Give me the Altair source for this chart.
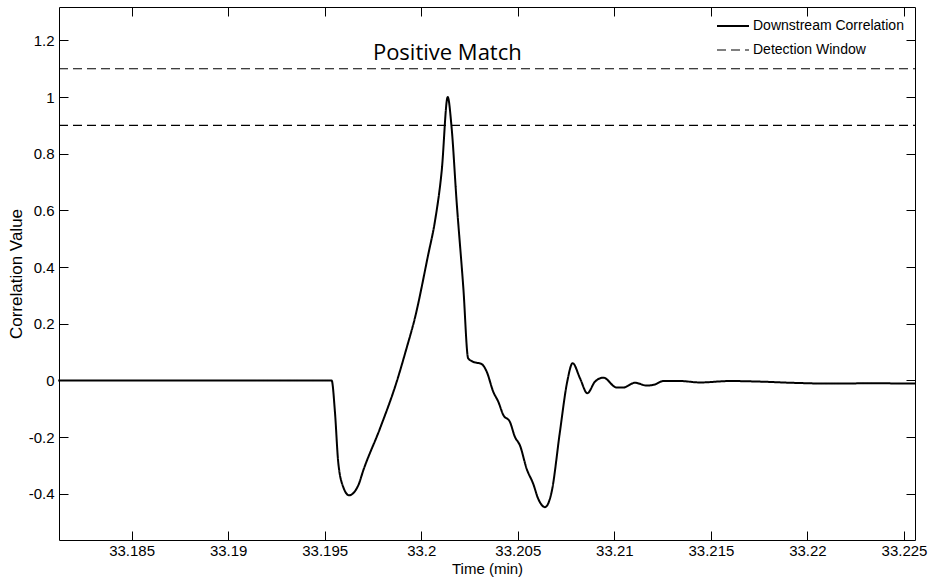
import altair as alt
import pandas as pd

# Downstream correlation trace (time in minutes, correlation value)
time_min = [33.1812, 33.19536, 33.19553, 33.1957, 33.19596, 33.19626, 33.19674, 33.197,
            33.19786, 33.19873, 33.19924, 33.19967, 33.20036, 33.20071, 33.20106, 33.20137,
            33.20157, 33.20183, 33.20218, 33.20243, 33.20269, 33.20313, 33.20339, 33.20373,
            33.20399, 33.20425, 33.20459, 33.20485, 33.20511, 33.20546, 33.2058, 33.20606,
            33.20641, 33.20675, 33.20718, 33.20756, 33.20784, 33.20822, 33.2086, 33.209,
            33.20943, 33.21012, 33.21046, 33.21107, 33.21167, 33.2121, 33.21253, 33.2134,
            33.21444, 33.21599, 33.21754, 33.2191, 33.22117, 33.22324, 33.22557]
correlation = [0.0, 0.0, -0.111, -0.288, -0.376, -0.405, -0.370, -0.317,
               -0.170, -0.004, 0.114, 0.220, 0.444, 0.562, 0.740, 1.0,
               0.894, 0.633, 0.326, 0.078, 0.066, 0.058, 0.031, -0.040,
               -0.075, -0.122, -0.146, -0.199, -0.229, -0.312, -0.365, -0.418,
               -0.447, -0.394, -0.182, -0.004, 0.061, 0.008, -0.045, -0.004,
               0.010, -0.025, -0.025, -0.008, -0.018, -0.014, -0.002, -0.002,
               -0.007, -0.002, -0.004, -0.008, -0.011, -0.010, -0.011]

# Detection window limits
window_levels = [1.1, 0.9]
x_domain = [33.18124, 33.22557]
y_domain = [-0.563, 1.318]

x_ticks = [33.185, 33.19, 33.195, 33.2, 33.205, 33.21, 33.215, 33.22, 33.225]
y_ticks = [-0.4, -0.2, 0, 0.2, 0.4, 0.6, 0.8, 1, 1.2]

series_names = ["Downstream Correlation", "Detection Window"]

annotation_text = ["Positive Match"]
annotation_x = [33.20135]
annotation_y = [1.155]

curve_df = pd.DataFrame({"t": time_min, "c": correlation, "series": series_names[0]})
win_rows = []
for lvl in window_levels:
    for xv in x_domain:
        win_rows.append({"t": xv, "c": lvl, "level": str(lvl), "series": series_names[1]})
win_df = pd.DataFrame(win_rows)
ann_df = pd.DataFrame({"t": annotation_x, "c": annotation_y, "label": annotation_text})

FONT = "Liberation Sans"
xscale = alt.Scale(domain=x_domain, nice=False, zero=False)
yscale = alt.Scale(domain=y_domain, nice=False, zero=False)

legend_cfg = dict(
    title=None, orient="none", legendX=657, legendY=2,
    symbolType="stroke", symbolSize=1024, symbolStrokeColor="black",
    labelFont=FONT, labelFontSize=14, labelColor="black",
    labelOffset=3, rowPadding=-20,
)

dash_enc = alt.StrokeDash(
    "series:N",
    scale=alt.Scale(domain=series_names, range=[[1, 0], [9, 5]]),
    legend=alt.Legend(**legend_cfg),
)
width_enc = alt.StrokeWidth(
    "series:N",
    scale=alt.Scale(domain=series_names, range=[2.0, 1.2]),
    legend=alt.Legend(**legend_cfg),
)

curve = alt.Chart(curve_df).mark_line(color="black", interpolate="monotone").encode(
    x=alt.X("t:Q", scale=xscale,
            axis=alt.Axis(orient="bottom", values=x_ticks, format="~g", title="Time (min)",
                          offset=-9, tickSize=9, domain=False, grid=False,
                          labelPadding=3, titlePadding=3, titleFontSize=15)),
    y=alt.Y("c:Q", scale=yscale,
            axis=alt.Axis(orient="left", values=y_ticks, title="Correlation Value",
                          labelExpr="datum.value < 0 ? '-' + format(-datum.value, '~g') : format(datum.value, '~g')",
                          offset=-9, tickSize=9, domain=False, grid=False,
                          labelPadding=5, titlePadding=3, titleFontSize=17)),
    strokeDash=dash_enc,
    strokeWidth=width_enc,
)

window = alt.Chart(win_df).mark_line(color="black").encode(
    x=alt.X("t:Q", scale=xscale,
            axis=alt.Axis(orient="top", values=x_ticks, labels=False, title=None,
                          offset=-9, tickSize=9, domain=False, grid=False)),
    y=alt.Y("c:Q", scale=yscale,
            axis=alt.Axis(orient="right", values=y_ticks, labels=False, title=None,
                          offset=-9, tickSize=9, domain=False, grid=False)),
    detail="level:N",
    strokeDash=alt.StrokeDash("series:N"),
    strokeWidth=alt.StrokeWidth("series:N"),
)

annotation = alt.Chart(ann_df).mark_text(
    font="Open Sans", fontSize=22, color="black", baseline="middle", align="center"
).encode(
    x=alt.X("t:Q", scale=xscale, axis=None),
    y=alt.Y("c:Q", scale=yscale, axis=None),
    text="label:N",
)

chart = alt.layer(curve, window, annotation).resolve_axis(
    x="independent", y="independent"
).properties(
    width=856, height=533,
    autosize=alt.AutoSizeParams(type="none"),
    padding={"left": 59, "top": 7, "right": 13, "bottom": 39},
    background="white",
).configure_view(
    stroke="black", strokeWidth=1
).configure_axis(
    labelFont=FONT, labelFontSize=15, labelColor="black",
    titleFont=FONT, titleColor="black", titleFontWeight="normal",
    tickColor="black", tickWidth=1,
)

chart.save("out.html", embed_options={"renderer": "svg", "actions": False})
